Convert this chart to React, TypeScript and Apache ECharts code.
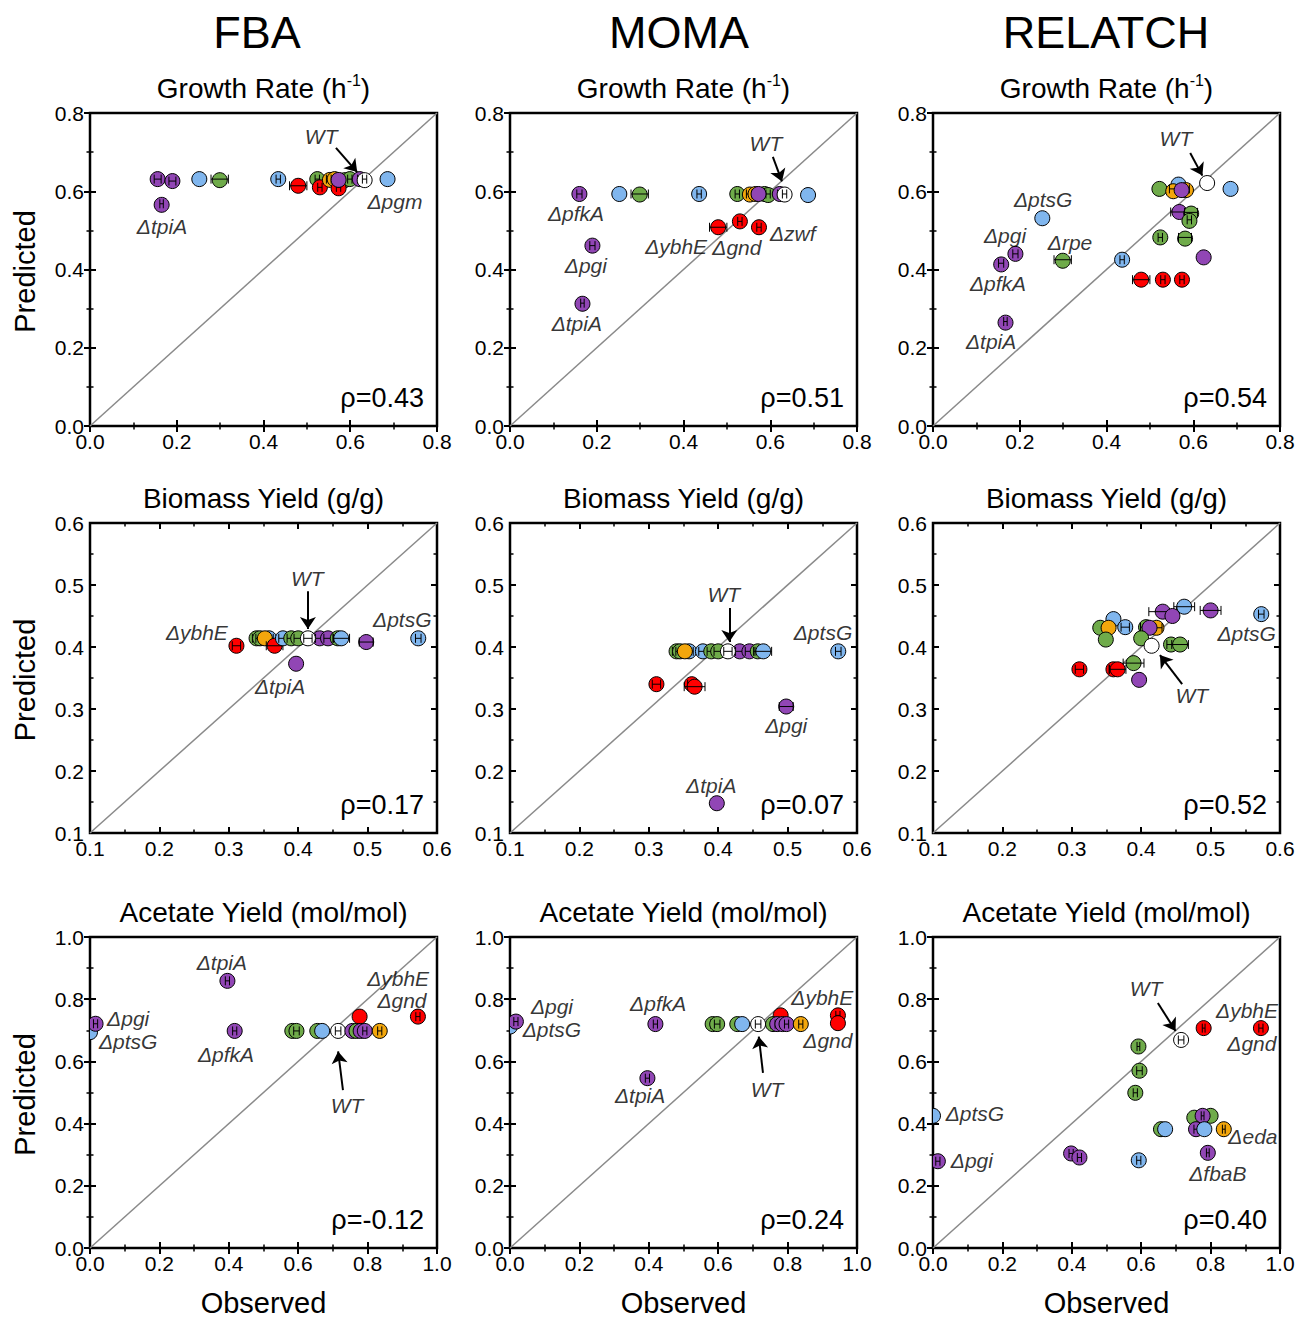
import React, { useEffect, useRef } from 'react';
import * as echarts from 'echarts';

// colour keys
const P = 0, B = 1, G = 2, R = 3, O = 4, W = 5;
const COLORS = ['#9146b5', '#80b6ee', '#6fab4a', '#ff0000', '#f2a60c', '#ffffff'];
const FONT = 'Liberation Sans, Arial, Helvetica, sans-serif';

const methods = ['FBA', 'MOMA', 'RELATCH'];
const metricTitles = ['{a|Growth Rate (h}{s|-1}{a|)}', '{a|Biomass Yield (g/g)}', '{a|Acetate Yield (mol/mol)}'];
const rhoValues = ['0.43', '0.51', '0.54', '0.17', '0.07', '0.52', '-0.12', '0.24', '0.40'];

// axis ranges per row: [min, max, interval]
const rowAxis = [
  [0, 0.8, 0.2],
  [0.1, 0.6, 0.1],
  [0, 1.0, 0.2],
];

// points: [observed, predicted, colour, observed error]
const fbaGrowth = [
  [0.156, 0.631, P, 0.008], [0.19, 0.626, P, 0.008], [0.165, 0.568, P, 0.004],
  [0.252, 0.631, B, 0], [0.299, 0.631, G, 0.02], [0.434, 0.631, B, 0.005],
  [0.48, 0.614, R, 0.02], [0.524, 0.631, G, 0.005], [0.53, 0.61, R, 0.005],
  [0.553, 0.631, O, 0.008], [0.564, 0.631, O, 0.008], [0.587, 0.631, G, 0.005],
  [0.599, 0.631, G, 0.005], [0.573, 0.61, R, 0.005], [0.573, 0.631, P, 0],
  [0.622, 0.631, P, 0.005], [0.633, 0.631, W, 0.005], [0.686, 0.631, B, 0],
];
const momaGrowth = [
  [0.16, 0.593, P, 0.006], [0.252, 0.593, B, 0], [0.299, 0.593, G, 0.02],
  [0.436, 0.593, B, 0.005], [0.524, 0.593, G, 0.005], [0.553, 0.593, O, 0.008],
  [0.566, 0.593, O, 0.008], [0.587, 0.593, G, 0.005], [0.595, 0.593, G, 0.005],
  [0.573, 0.593, P, 0], [0.622, 0.593, P, 0.005], [0.633, 0.593, W, 0.005],
  [0.687, 0.593, B, 0], [0.48, 0.508, R, 0.02], [0.53, 0.523, R, 0.005],
  [0.574, 0.508, R, 0.005], [0.19, 0.461, P, 0.006], [0.167, 0.314, P, 0.004],
];
const relatchGrowth = [
  [0.522, 0.606, G, 0], [0.566, 0.617, B, 0], [0.553, 0.606, O, 0.008],
  [0.583, 0.606, O, 0.008], [0.573, 0.606, P, 0], [0.632, 0.621, W, 0],
  [0.686, 0.606, B, 0], [0.568, 0.547, P, 0.02], [0.595, 0.546, G, 0.015],
  [0.591, 0.527, G, 0.005], [0.252, 0.531, B, 0], [0.524, 0.482, G, 0.005],
  [0.581, 0.482, G, 0.015], [0.624, 0.431, P, 0], [0.436, 0.425, B, 0.005],
  [0.299, 0.425, G, 0.02], [0.19, 0.44, P, 0.006], [0.157, 0.416, P, 0.006],
  [0.48, 0.374, R, 0.02], [0.53, 0.374, R, 0.005], [0.574, 0.374, R, 0.005],
  [0.167, 0.267, P, 0.004],
];
const fbaBiomass = [
  [0.311, 0.402, R, 0.006], [0.34, 0.414, G, 0.006], [0.345, 0.414, G, 0.006],
  [0.358, 0.414, B, 0.006], [0.352, 0.414, O, 0], [0.366, 0.402, R, 0.012],
  [0.378, 0.414, B, 0.006], [0.39, 0.414, G, 0.006], [0.40, 0.414, G, 0.006],
  [0.431, 0.414, P, 0.006], [0.443, 0.414, P, 0.006], [0.457, 0.414, G, 0.006],
  [0.462, 0.414, B, 0.012], [0.414, 0.414, W, 0.006], [0.498, 0.408, P, 0.01],
  [0.573, 0.414, B, 0.004], [0.397, 0.373, P, 0],
];
const momaBiomass = [
  [0.34, 0.393, G, 0.006], [0.345, 0.393, G, 0.006], [0.358, 0.393, B, 0.006],
  [0.352, 0.393, O, 0], [0.378, 0.393, B, 0.006], [0.39, 0.393, G, 0.006],
  [0.40, 0.393, G, 0.006], [0.431, 0.393, P, 0.006], [0.445, 0.393, P, 0.006],
  [0.457, 0.393, G, 0.006], [0.465, 0.393, B, 0.012], [0.414, 0.393, W, 0.006],
  [0.311, 0.34, R, 0.006], [0.362, 0.34, R, 0.006], [0.366, 0.336, R, 0.015],
  [0.498, 0.304, P, 0.01], [0.398, 0.148, P, 0], [0.573, 0.393, B, 0.004],
];
const relatchBiomass = [
  [0.462, 0.465, B, 0.015], [0.5, 0.459, P, 0.015], [0.431, 0.457, P, 0.02],
  [0.445, 0.45, P, 0], [0.573, 0.453, B, 0.004], [0.36, 0.445, B, 0],
  [0.341, 0.431, G, 0], [0.353, 0.431, O, 0], [0.377, 0.432, B, 0.006],
  [0.407, 0.432, G, 0.008], [0.422, 0.431, O, 0.008], [0.412, 0.431, P, 0],
  [0.349, 0.412, G, 0], [0.40, 0.414, G, 0], [0.443, 0.404, G, 0.006],
  [0.456, 0.404, G, 0.012], [0.415, 0.402, W, 0], [0.389, 0.374, G, 0.015],
  [0.311, 0.364, R, 0.006], [0.36, 0.364, R, 0.006], [0.366, 0.364, R, 0.012],
  [0.397, 0.347, P, 0],
];
const fbaAcetate = [
  [0.396, 0.859, P, 0.006], [0.0, 0.694, B, 0], [0.016, 0.721, P, 0.006],
  [0.417, 0.698, P, 0.006], [0.777, 0.744, R, 0], [0.945, 0.744, R, 0.006],
  [0.583, 0.698, G, 0.006], [0.595, 0.698, G, 0.008], [0.655, 0.698, G, 0],
  [0.669, 0.698, B, 0], [0.715, 0.698, W, 0.008], [0.756, 0.698, P, 0.006],
  [0.768, 0.698, G, 0.006], [0.78, 0.698, P, 0.006], [0.792, 0.698, P, 0.006],
  [0.835, 0.698, O, 0.006],
];
const momaAcetate = [
  [0.0, 0.712, B, 0], [0.017, 0.728, P, 0.006], [0.419, 0.72, P, 0.006],
  [0.396, 0.546, P, 0.006], [0.78, 0.748, R, 0], [0.945, 0.748, R, 0.006],
  [0.945, 0.723, R, 0], [0.584, 0.72, G, 0.006], [0.597, 0.72, G, 0.008],
  [0.655, 0.72, G, 0], [0.669, 0.72, B, 0], [0.715, 0.72, W, 0.008],
  [0.758, 0.72, G, 0.006], [0.77, 0.72, P, 0.006], [0.785, 0.72, P, 0.006],
  [0.797, 0.72, P, 0.006], [0.838, 0.72, O, 0.006],
];
const relatchAcetate = [
  [0.0, 0.425, B, 0], [0.014, 0.279, P, 0.006], [0.398, 0.304, P, 0.006],
  [0.422, 0.291, P, 0.006], [0.593, 0.282, B, 0.006], [0.583, 0.499, G, 0.006],
  [0.595, 0.57, G, 0.008], [0.592, 0.648, G, 0.004], [0.715, 0.669, W, 0.008],
  [0.78, 0.707, R, 0.004], [0.945, 0.707, R, 0.006], [0.657, 0.382, G, 0.004],
  [0.669, 0.382, B, 0], [0.753, 0.419, G, 0], [0.8, 0.425, G, 0],
  [0.777, 0.425, P, 0.004], [0.758, 0.382, P, 0.006], [0.782, 0.382, B, 0],
  [0.838, 0.382, O, 0.004], [0.792, 0.306, P, 0.004],
];

// annotation labels: [x, y, text] in data units
const fbaGrowthLabels = [[0.533, 0.739, 'WT'], [0.166, 0.511, 'ΔtpiA'], [0.703, 0.573, 'Δpgm']];
const momaGrowthLabels = [
  [0.59, 0.723, 'WT'], [0.152, 0.542, 'ΔpfkA'], [0.175, 0.411, 'Δpgi'], [0.154, 0.263, 'ΔtpiA'],
  [0.383, 0.46, 'ΔybhE'], [0.523, 0.455, 'Δgnd'], [0.652, 0.493, 'Δzwf'],
];
const relatchGrowthLabels = [
  [0.56, 0.736, 'WT'], [0.254, 0.578, 'ΔptsG'], [0.166, 0.488, 'Δpgi'], [0.316, 0.468, 'Δrpe'],
  [0.15, 0.365, 'ΔpfkA'], [0.134, 0.217, 'ΔtpiA'],
];
const fbaBiomassLabels = [[0.413, 0.511, 'WT'], [0.254, 0.423, 'ΔybhE'], [0.55, 0.445, 'ΔptsG'], [0.374, 0.337, 'ΔtpiA']];
const momaBiomassLabels = [[0.408, 0.485, 'WT'], [0.551, 0.423, 'ΔptsG'], [0.498, 0.274, 'Δpgi'], [0.39, 0.176, 'ΔtpiA']];
const relatchBiomassLabels = [[0.552, 0.421, 'ΔptsG'], [0.473, 0.321, 'WT']];
const fbaAcetateLabels = [
  [0.38, 0.917, 'ΔtpiA'], [0.11, 0.738, 'Δpgi'], [0.11, 0.664, 'ΔptsG'], [0.392, 0.621, 'ΔpfkA'],
  [0.888, 0.866, 'ΔybhE'], [0.899, 0.796, 'Δgnd'], [0.741, 0.457, 'WT'],
];
const momaAcetateLabels = [
  [0.121, 0.777, 'Δpgi'], [0.121, 0.702, 'ΔptsG'], [0.427, 0.785, 'ΔpfkA'], [0.375, 0.489, 'ΔtpiA'],
  [0.9, 0.807, 'ΔybhE'], [0.916, 0.666, 'Δgnd'], [0.741, 0.511, 'WT'],
];
const relatchAcetateLabels = [
  [0.614, 0.836, 'WT'], [0.905, 0.765, 'ΔybhE'], [0.919, 0.656, 'Δgnd'], [0.121, 0.434, 'ΔptsG'],
  [0.112, 0.28, 'Δpgi'], [0.922, 0.357, 'Δeda'], [0.821, 0.241, 'ΔfbaB'],
];

// arrows: [[x1, y1], [x2, y2]]
const arrowsFbaGrowth = [[0.567, 0.711], [0.616, 0.649]];
const arrowsMomaGrowth = [[0.606, 0.688], [0.627, 0.625]];
const arrowsRelatchGrowth = [[0.593, 0.698], [0.621, 0.64]];
const arrowsFbaBiomass = [[0.414, 0.49], [0.414, 0.429]];
const arrowsMomaBiomass = [[0.416, 0.463], [0.416, 0.408]];
const arrowsRelatchBiomass = [[0.459, 0.34], [0.427, 0.387]];
const arrowsFbaAcetate = [[0.729, 0.508], [0.715, 0.632]];
const arrowsMomaAcetate = [[0.729, 0.563], [0.717, 0.68]];
const arrowsRelatchAcetate = [[0.648, 0.788], [0.699, 0.698]];

const panelPoints = [fbaGrowth, momaGrowth, relatchGrowth, fbaBiomass, momaBiomass, relatchBiomass, fbaAcetate, momaAcetate, relatchAcetate];
const panelLabels = [fbaGrowthLabels, momaGrowthLabels, relatchGrowthLabels, fbaBiomassLabels, momaBiomassLabels, relatchBiomassLabels, fbaAcetateLabels, momaAcetateLabels, relatchAcetateLabels];
const panelArrows = [arrowsFbaGrowth, arrowsMomaGrowth, arrowsRelatchGrowth, arrowsFbaBiomass, arrowsMomaBiomass, arrowsRelatchBiomass, arrowsFbaAcetate, arrowsMomaAcetate, arrowsRelatchAcetate];

// layout
const colLeft = [90, 510, 933];
const plotWidth = 347;
const rowTop = [113, 523, 937];
const rowHeight = [313, 310, 311];
const headerX = [257, 679, 1106];

function buildOption() {
  const grid: any[] = [];
  const xAxis: any[] = [];
  const yAxis: any[] = [];
  const series: any[] = [];
  const graphic: any[] = [];

  const tickCfg = { show: true, inside: true, length: 6, lineStyle: { color: '#000', width: 2 } };
  const minorCfg = { show: true, splitNumber: 2, length: 3.5, lineStyle: { color: '#000', width: 1.5 } };
  const labelCfg = (show: boolean, margin: number) => ({
    show,
    margin,
    color: '#000',
    fontSize: 21,
    fontFamily: FONT,
    formatter: (v: number) => v.toFixed(1),
  });

  for (let r = 0; r < 3; r++) {
    const [mn, mx, iv] = rowAxis[r];
    for (let c = 0; c < 3; c++) {
      const i = r * 3 + c;
      grid.push({
        left: colLeft[c], top: rowTop[r], width: plotWidth, height: rowHeight[r],
        show: true, borderColor: '#000', borderWidth: 2.5, backgroundColor: 'transparent', containLabel: false,
      });
      const base = { type: 'value', gridIndex: i, min: mn, max: mx, interval: iv, axisLine: { show: false }, splitLine: { show: false }, axisTick: tickCfg, minorTick: minorCfg };
      xAxis.push({ ...base, position: 'bottom', axisLabel: labelCfg(true, 5) });
      xAxis.push({ ...base, position: 'top', axisLabel: labelCfg(false, 5) });
      yAxis.push({ ...base, position: 'left', axisLabel: labelCfg(true, 6) });
      yAxis.push({ ...base, position: 'right', axisLabel: labelCfg(false, 6) });

      const ax = 2 * i;
      series.push({
        type: 'line', xAxisIndex: ax, yAxisIndex: ax, data: [[mn, mn], [mx, mx]],
        symbol: 'none', silent: true, z: 1,
        lineStyle: { color: '#8a8a8a', width: 1.5 },
      });
      series.push({
        type: 'custom', xAxisIndex: ax, yAxisIndex: ax, clip: true, z: 3,
        data: panelPoints[i],
        encode: { x: 0, y: 1 },
        renderItem: (params: any, api: any) => {
          const x = api.value(0), y = api.value(1), col = api.value(2), e = api.value(3);
          const p = api.coord([x, y]);
          const children: any[] = [
            { type: 'circle', shape: { cx: p[0], cy: p[1], r: 7.5 }, style: { fill: COLORS[col], stroke: '#000', lineWidth: 1 } },
          ];
          if (e > 0) {
            const a = api.coord([x - e, y]);
            const b = api.coord([x + e, y]);
            const ls = { stroke: '#000', lineWidth: 1 };
            children.push({ type: 'line', shape: { x1: a[0], y1: p[1], x2: b[0], y2: p[1] }, style: ls });
            children.push({ type: 'line', shape: { x1: a[0], y1: p[1] - 4.5, x2: a[0], y2: p[1] + 4.5 }, style: ls });
            children.push({ type: 'line', shape: { x1: b[0], y1: p[1] - 4.5, x2: b[0], y2: p[1] + 4.5 }, style: ls });
          }
          return { type: 'group', children };
        },
      });
      series.push({
        type: 'scatter', xAxisIndex: ax, yAxisIndex: ax, symbolSize: 0, silent: true, z: 6,
        data: panelLabels[i].map((l: any) => ({ value: [l[0], l[1]], name: l[2] })),
        label: {
          show: true, position: 'inside', formatter: (p: any) => p.name,
          color: '#000', fontSize: 21, lineHeight: 21, fontStyle: 'italic', fontFamily: FONT,
        },
      });
      series.push({
        type: 'lines', coordinateSystem: 'cartesian2d', xAxisIndex: ax, yAxisIndex: ax, silent: true, z: 6,
        symbol: ['none', 'arrow'], symbolSize: 12,
        lineStyle: { color: '#000', width: 2, opacity: 1, curveness: 0 },
        data: [{ coords: panelArrows[i] }],
      });

      graphic.push({
        type: 'text', x: colLeft[c] + plotWidth - 13, y: rowTop[r] + rowHeight[r] - 28,
        style: { text: 'ρ=' + rhoValues[i], fontSize: 27, fontFamily: FONT, fill: '#000', align: 'right', verticalAlign: 'middle' },
      });
      graphic.push({
        type: 'text', x: colLeft[c] + plotWidth / 2, y: rowTop[r] - 25,
        style: {
          text: metricTitles[r],
          rich: {
            a: { fontSize: 28, fontFamily: FONT, fill: '#000', lineHeight: 32 },
            s: { fontSize: 16, fontFamily: FONT, fill: '#000', lineHeight: 20, verticalAlign: 'top' },
          },
          align: 'center', verticalAlign: 'middle',
        },
      });
    }
    graphic.push({
      type: 'text', x: 25, y: rowTop[r] + rowHeight[r] / 2 + 2, rotation: Math.PI / 2,
      style: { text: 'Predicted', fontSize: 29, fontFamily: FONT, fill: '#000', align: 'center', verticalAlign: 'middle' },
    });
  }
  for (let c = 0; c < 3; c++) {
    graphic.push({
      type: 'text', x: headerX[c], y: 32,
      style: { text: methods[c], fontSize: 45, fontFamily: FONT, fill: '#000', align: 'center', verticalAlign: 'middle' },
    });
    graphic.push({
      type: 'text', x: colLeft[c] + plotWidth / 2, y: 1303,
      style: { text: 'Observed', fontSize: 29, lineHeight: 30, fontFamily: FONT, fill: '#000', align: 'center', verticalAlign: 'middle' },
    });
  }

  return {
    animation: false,
    backgroundColor: '#ffffff',
    grid, xAxis, yAxis, series, graphic,
  };
}

export default function App() {
  const ref = useRef<HTMLDivElement>(null);
  useEffect(() => {
    if (!ref.current) return;
    const chart = echarts.init(ref.current, null, { renderer: 'svg' });
    chart.setOption(buildOption() as any);
    return () => chart.dispose();
  }, []);
  return <div ref={ref} style={{ position: 'absolute', left: 0, top: 0, width: 1300, height: 1321, background: '#fff' }} />;
}
